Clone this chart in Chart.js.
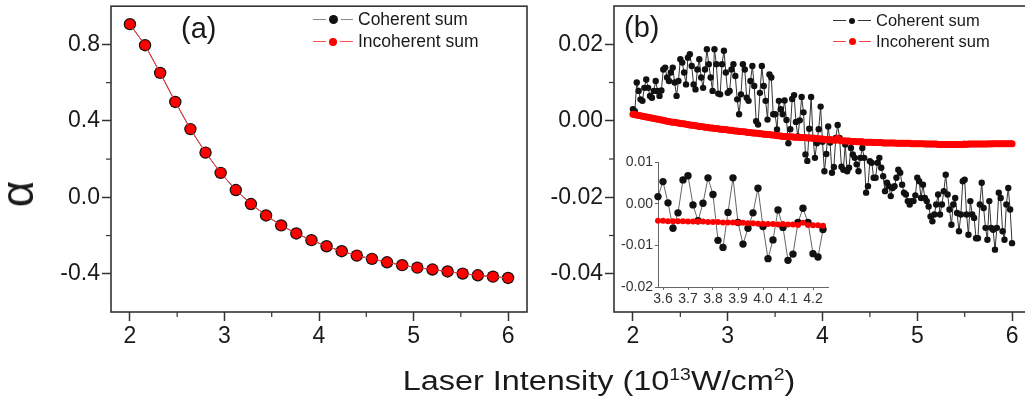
<!DOCTYPE html>
<html><head><meta charset="utf-8">
<script src="https://cdn.jsdelivr.net/npm/chart.js@4/dist/chart.umd.min.js"></script>
<style>
html,body{margin:0;padding:0;background:#fff;overflow:hidden;width:1025px;height:399px;}
#wrap{position:relative;width:1025px;height:399px;overflow:hidden;font-family:"Liberation Sans",Arial,sans-serif;color:#1a1a1a}
canvas{position:absolute}
.lbl{position:absolute;white-space:nowrap;line-height:1}
.legtxt{position:absolute;white-space:nowrap;line-height:1}
.legln{position:absolute;height:1px}
.legdot{position:absolute;border-radius:50%}
sup{font-size:60%;vertical-align:0;position:relative;top:-0.6em}
</style></head><body>
<div id="wrap">
<canvas id="ca" width="545" height="399" style="left:0;top:0"></canvas>
<canvas id="cb" width="545" height="399" style="left:500px;top:0"></canvas>
<canvas id="ci" width="240" height="160" style="left:600px;top:150px"></canvas>
<div class="lbl" style="left:181px;top:14px;font-size:29px">(a)</div>
<div class="lbl" style="left:624px;top:13px;font-size:29px">(b)</div>
<div class="lbl" id="yt" style="left:17px;top:194px;font-size:46px;transform:translate(-50%,-50%) rotate(-90deg)">α</div>
<div class="lbl" id="xt" style="left:599px;top:368px;font-size:27px;transform:translateX(-50%) scaleX(1.2)">Laser Intensity (10<sup>13</sup>W/cm<sup>2</sup>)</div>
<div id="legs"></div>
</div>
<script>
// ---------- data ----------
const seriesNames = ['Coherent sum', 'Incoherent sum'];
const panelLabels = ['(a)', '(b)'];

// panel (a)
const xA = [2.00,2.16,2.32,2.48,2.64,2.80,2.96,3.12,3.28,3.44,3.60,3.76,3.92,4.08,4.24,4.40,4.56,4.72,4.88,5.04,5.20,5.36,5.52,5.68,5.84,6.00];
const cohA = [0.906,0.796,0.651,0.499,0.357,0.234,0.128,0.038,-0.035,-0.095,-0.147,-0.189,-0.224,-0.256,-0.282,-0.305,-0.322,-0.340,-0.355,-0.368,-0.378,-0.388,-0.399,-0.408,-0.415,-0.422];
const incA = [0.906,0.796,0.651,0.499,0.357,0.234,0.128,0.038,-0.035,-0.095,-0.147,-0.189,-0.224,-0.256,-0.282,-0.305,-0.322,-0.340,-0.355,-0.368,-0.378,-0.388,-0.399,-0.408,-0.415,-0.422];
const xTicksA = [2,3,4,5,6];
const xMinorA = [2.5,3.5,4.5,5.5];
const yTicksA = [0.8,0.4,0.0,-0.4];
const yLabelsA = ['0.8','0.4','0.0','-0.4'];
const yMinorA = [0.6,0.2,-0.2];

// panel (b)
const xB = [2.00,2.02,2.04,2.06,2.08,2.10,2.12,2.14,2.16,2.18,2.20,2.22,2.24,2.26,2.28,2.30,2.32,2.34,2.36,2.38,2.40,2.42,2.44,2.46,2.48,2.50,2.52,2.54,2.56,2.58,2.60,2.62,2.64,2.66,2.68,2.70,2.72,2.74,2.76,2.78,2.80,2.82,2.84,2.86,2.88,2.90,2.92,2.94,2.96,2.98,
3.00,3.02,3.04,3.06,3.08,3.10,3.12,3.14,3.16,3.18,3.20,3.22,3.24,3.26,3.28,3.30,3.32,3.34,3.36,3.38,3.40,3.42,3.44,3.46,3.48,3.50,3.52,3.54,3.56,3.58,3.60,3.62,3.64,3.66,3.68,3.70,3.72,3.74,3.76,3.78,3.80,3.82,3.84,3.86,3.88,3.90,3.92,3.94,3.96,3.98,
4.00,4.02,4.04,4.06,4.08,4.10,4.12,4.14,4.16,4.18,4.20,4.22,4.24,4.26,4.28,4.30,4.32,4.34,4.36,4.38,4.40,4.42,4.44,4.46,4.48,4.50,4.52,4.54,4.56,4.58,4.60,4.62,4.64,4.66,4.68,4.70,4.72,4.74,4.76,4.78,4.80,4.82,4.84,4.86,4.88,4.90,4.92,4.94,4.96,4.98,
5.00,5.02,5.04,5.06,5.08,5.10,5.12,5.14,5.16,5.18,5.20,5.22,5.24,5.26,5.28,5.30,5.32,5.34,5.36,5.38,5.40,5.42,5.44,5.46,5.48,5.50,5.52,5.54,5.56,5.58,5.60,5.62,5.64,5.66,5.68,5.70,5.72,5.74,5.76,5.78,5.80,5.82,5.84,5.86,5.88,5.90,5.92,5.94,5.96,5.98,6.00];
const cohB = [
0.0030,0.0025,0.0100,0.0078,0.0056,0.0052,0.0086,0.0108,0.0086,0.0065,
0.0060,0.0078,0.0104,0.0078,0.0065,0.0079,0.0134,0.0139,0.0113,0.0104,
0.0126,0.0139,0.0100,0.0065,0.0104,0.0161,0.0152,0.0126,0.0095,0.0165,
0.0174,0.0143,0.0095,0.0082,0.0134,0.0161,0.0113,0.0086,0.0134,0.0187,
0.0148,0.0113,0.0078,0.0187,0.0148,0.0071,0.0069,0.0148,0.0183,0.0126,
0.0073,0.0078,0.0134,0.0148,0.0117,0.0056,0.0017,0.0069,0.0148,0.0134,
0.0060,0.0052,0.0104,0.0143,0.0091,-0.0001,-0.0010,0.0073,0.0143,0.0091,
0.0052,0.0003,0.0121,0.0113,0.0017,0.0017,-0.0023,0.0052,0.0030,
0.0017,0.0053,0.0002,-0.0059,-0.0022,0.0057,0.0067,-0.0003,-0.0041,0.0001,
0.0062,0.0022,-0.0088,-0.0105,-0.0021,0.0062,-0.0045,-0.0097,-0.0059,-0.0022,
0.0037,-0.0055,-0.0132,-0.0087,-0.0015,-0.0057,-0.0136,-0.0121,-0.0045,-0.0011,
-0.0045,-0.0120,-0.0128,-0.0062,
-0.0132,-0.0123,-0.0071,-0.0088,-0.0097,-0.0114,-0.0132,-0.0097,-0.0071,-0.0097,
-0.0188,-0.0171,-0.0106,-0.0110,-0.0149,-0.0149,-0.0110,-0.0097,-0.0123,-0.0145,
-0.0184,-0.0162,-0.0171,-0.0197,-0.0176,-0.0171,-0.0149,-0.0128,-0.0136,-0.0167,
-0.0188,-0.0193,-0.0210,-0.0219,-0.0210,-0.0210,-0.0195,-0.0149,-0.0158,-0.0202,
-0.0167,-0.0202,-0.0210,-0.0224,-0.0250,-0.0263,-0.0245,-0.0219,-0.0193,-0.0245,
-0.0219,-0.0184,-0.0141,-0.0193,-0.0232,-0.0272,-0.0219,-0.0202,-0.0241,-0.0289,
-0.0245,-0.0158,-0.0154,-0.0245,-0.0298,-0.0210,-0.0245,-0.0254,-0.0307,-0.0307,
-0.0219,-0.0162,-0.0228,-0.0280,-0.0311,-0.0210,-0.0280,-0.0285,-0.0337,-0.0280,
-0.0188,-0.0202,-0.0289,-0.0311,-0.0219,-0.0176,-0.0232,-0.0320];
const incB = [
0.0017,0.0016,0.0015,0.0014,0.0013,0.0012,0.0011,0.0010,0.0009,0.0008,
0.0007,0.0006,0.0005,0.0004,0.0003,0.0002,0.0001,0.0000,-0.0001,-0.0002,
-0.0003,-0.0004,-0.0004,-0.0005,-0.0006,-0.0007,-0.0008,-0.0008,-0.0009,-0.0010,
-0.0011,-0.0012,-0.0012,-0.0013,-0.0014,-0.0015,-0.0015,-0.0016,-0.0017,-0.0017,
-0.0018,-0.0019,-0.0019,-0.0020,-0.0020,-0.0021,-0.0022,-0.0022,-0.0023,-0.0023,
-0.0024,
-0.0025,-0.0025,-0.0026,-0.0027,-0.0027,-0.0028,-0.0028,-0.0029,-0.0029,-0.0030,
-0.0031,-0.0031,-0.0032,-0.0032,-0.0033,-0.0033,-0.0034,-0.0034,-0.0035,-0.0035,
-0.0036,-0.0036,-0.0037,-0.0037,-0.0038,-0.0039,-0.0039,-0.0040,
-0.0041,-0.0041,-0.0042,-0.0042,-0.0042,-0.0042,-0.0043,-0.0043,-0.0043,-0.0043,
-0.0044,-0.0044,-0.0044,-0.0045,-0.0045,-0.0045,-0.0046,-0.0046,-0.0047,-0.0047,
-0.0048,-0.0048,-0.0049,-0.0049,-0.0050,-0.0049,-0.0050,-0.0050,-0.0051,-0.0046,
-0.0051,-0.0052,-0.0052,-0.0053,
-0.0053,-0.0053,-0.0054,-0.0054,-0.0054,-0.0055,-0.0055,-0.0055,-0.0055,-0.0056,-0.0056,-0.0056,-0.0056,
-0.0056,-0.0057,-0.0057,-0.0057,-0.0057,-0.0057,-0.0058,-0.0058,-0.0058,-0.0058,-0.0058,-0.0058,-0.0058,
-0.0059,-0.0059,-0.0059,-0.0059,-0.0059,-0.0059,-0.0059,-0.0059,-0.0060,-0.0060,-0.0060,-0.0060,
-0.0060,-0.0060,-0.0060,-0.0061,-0.0061,-0.0061,-0.0061,-0.0061,-0.0061,-0.0061,-0.0062,-0.0062,-0.0062,
-0.0062,-0.0062,-0.0062,-0.0062,-0.0062,-0.0062,-0.0062,
-0.0062,-0.0062,-0.0062,-0.0062,-0.0061,-0.0062,-0.0061,-0.0061,-0.0061,-0.0061,-0.0061,-0.0061,-0.0061,
-0.0061,-0.0061,-0.0061,-0.0061,-0.0060,-0.0061,-0.0060,-0.0060,-0.0060,-0.0060,-0.0060,-0.0060,-0.0060,
-0.0060,-0.0060,-0.0060,-0.0060];
const xTicksB = [2,3,4,5,6];
const xMinorB = [2.5,3.5,4.5,5.5];
const yTicksB = [0.02,0.00,-0.02,-0.04];
const yLabelsB = ['0.02','0.00','-0.02','-0.04'];
const yMinorB = [0.01,-0.01,-0.03];

// inset
const insetRange = [3.58, 4.24];
const xTicksI = [3.6,3.7,3.8,3.9,4.0,4.1,4.2];
const xLabelsI = ['3.6','3.7','3.8','3.9','4.0','4.1','4.2'];
const yTicksI = [0.01,0.00,-0.01,-0.02];
const yLabelsI = ['0.01','0.00','-0.01','-0.02'];

// ---------- helpers ----------
const FONT = '"Liberation Sans", Arial, sans-serif';
const pts = (xs, ys) => xs.map((x, i) => ({x, y: ys[i]}));
const noPad = s => { s.paddingTop = 0; s.paddingBottom = 0; s.paddingLeft = 0; s.paddingRight = 0; };

const framePlugin = {
  id: 'frame',
  afterDraw(chart, args, o) {
    if (!o || !o.on) return;
    const {ctx, chartArea: a} = chart;
    ctx.save();
    ctx.strokeStyle = o.color; ctx.lineWidth = o.width;
    ctx.strokeRect(a.left, a.top, a.right - a.left, a.bottom - a.top);
    ctx.restore();
  }
};
const minorPlugin = {
  id: 'minor',
  afterDraw(chart, args, o) {
    if (!o || !o.list) return;
    const ctx = chart.ctx;
    ctx.save(); ctx.strokeStyle = o.color; ctx.lineWidth = o.width;
    o.list.forEach(([id, vals, len]) => {
      const s = chart.scales[id];
      vals.forEach(v => {
        const p = s.getPixelForValue(v);
        ctx.beginPath();
        if (s.isHorizontal()) { ctx.moveTo(p, s.top); ctx.lineTo(p, s.top + len); }
        else { ctx.moveTo(s.right, p); ctx.lineTo(s.right - len, p); }
        ctx.stroke();
      });
    });
    ctx.restore();
  }
};

function mainScales(xmin, xmax, ymin, ymax, xt, yt, yl, yw) {
  return {
    x: {
      type: 'linear', min: xmin, max: xmax,
      afterBuildTicks: s => { s.ticks = xt.map(v => ({value: v})); },
      afterFit: s => { s.height = 87; noPad(s); },
      grid: {display: true, drawOnChartArea: false, tickLength: 9, tickColor: '#333', tickWidth: 1.5},
      border: {display: false},
      ticks: {font: {family: FONT, size: 23}, color: '#1a1a1a', padding: 2, maxRotation: 0,
              callback: (v) => String(v)}
    },
    y: {
      type: 'linear', min: ymin, max: ymax,
      afterBuildTicks: s => { s.ticks = yt.map(v => ({value: v})); },
      afterFit: s => { s.width = yw; noPad(s); },
      grid: {display: true, drawOnChartArea: false, tickLength: 9, tickColor: '#333', tickWidth: 1.5},
      border: {display: false},
      ticks: {font: {family: FONT, size: 23}, color: '#1a1a1a', padding: 2,
              callback: (v, i) => yl[i]}
    }
  };
}

const common = {responsive: false, animation: false, events: [],
  plugins: {legend: {display: false}, tooltip: {enabled: false}}};

// ---------- panel (a) ----------
new Chart(document.getElementById('ca'), {
  type: 'line',
  data: {datasets: [
    {label: seriesNames[1], data: pts(xA, incA), order: 0, borderColor: '#ff4040', borderWidth: 1,
     pointRadius: 5, pointBackgroundColor: '#ff0000', pointBorderWidth: 0, tension: 0},
    {label: seriesNames[0], data: pts(xA, cohA), order: 1, borderColor: '#222', borderWidth: 1,
     pointRadius: 6.2, pointBackgroundColor: '#111', pointBorderWidth: 0, tension: 0}
  ]},
  options: Object.assign({}, common, {
    layout: {padding: {left: 0, top: 6, right: 18, bottom: 0}},
    scales: mainScales(1.8, 6.2, -0.6, 1.0, xTicksA, yTicksA, yLabelsA, 111),
    plugins: Object.assign({}, common.plugins, {
      frame: {on: true, color: '#333', width: 1.6},
      minor: {color: '#333', width: 1.2, list: [['x', xMinorA, 5], ['y', yMinorA, 5]]}
    })
  }),
  plugins: [framePlugin, minorPlugin]
});

// ---------- panel (b) ----------
new Chart(document.getElementById('cb'), {
  type: 'line',
  data: {datasets: [
    {label: seriesNames[1], data: pts(xB, incB), order: 0, borderColor: '#ff0000', borderWidth: 1,
     pointRadius: 3.5, pointBackgroundColor: '#ff0000', pointBorderWidth: 0, tension: 0},
    {label: seriesNames[0], data: pts(xB, cohB), order: 1, borderColor: '#333', borderWidth: 1,
     pointRadius: 3.2, pointBackgroundColor: '#111', pointBorderWidth: 0, tension: 0}
  ]},
  options: Object.assign({}, common, {
    layout: {padding: {left: 0, top: 6, right: 14, bottom: 0}},
    scales: mainScales(1.8, 6.2, -0.05, 0.03, xTicksB, yTicksB, yLabelsB, 114),
    plugins: Object.assign({}, common.plugins, {
      frame: {on: true, color: '#333', width: 1.6},
      minor: {color: '#333', width: 1.2, list: [['x', xMinorB, 5], ['y', yMinorB, 5]]}
    })
  }),
  plugins: [framePlugin, minorPlugin]
});

// ---------- inset ----------
const inI = (x) => x >= insetRange[0] - 1e-9 && x <= insetRange[1] + 1e-9;
const insetPts = (ys) => pts(xB, ys).filter(p => inI(p.x));
new Chart(document.getElementById('ci'), {
  type: 'line',
  data: {datasets: [
    {label: seriesNames[1], data: insetPts(incB), order: 0, borderColor: '#ff0000', borderWidth: 1,
     pointRadius: 3, pointBackgroundColor: '#ff0000', pointBorderWidth: 0, tension: 0, clip: false},
    {label: seriesNames[0], data: insetPts(cohB), order: 1, borderColor: '#666', borderWidth: 1,
     pointRadius: 3.7, pointBackgroundColor: '#111', pointBorderWidth: 0, tension: 0, clip: false}
  ]},
  options: Object.assign({}, common, {
    layout: {padding: {left: 0, top: 12, right: 12, bottom: 0}},
    scales: {
      x: {type: 'linear', min: 3.58, max: 4.26,
        afterBuildTicks: s => { s.ticks = xTicksI.map(v => ({value: v})); },
        afterFit: s => { s.height = 23; noPad(s); },
        grid: {display: true, drawOnChartArea: false, tickLength: 3, tickColor: '#666'},
        border: {display: true, color: '#666', width: 1},
        ticks: {font: {family: FONT, size: 14}, color: '#333', padding: 1, maxRotation: 0,
                callback: (v, i) => xLabelsI[i]}},
      y: {type: 'linear', min: -0.02, max: 0.01,
        afterBuildTicks: s => { s.ticks = yTicksI.map(v => ({value: v})); },
        afterFit: s => { s.width = 58; noPad(s); },
        grid: {display: true, drawOnChartArea: false, tickLength: 3, tickColor: '#666'},
        border: {display: true, color: '#666', width: 1},
        ticks: {font: {family: FONT, size: 14}, color: '#333', padding: 2,
                callback: (v, i) => yLabelsI[i]}}
    }
  })
});

// ---------- legends (HTML) ----------
const legs = [
  {x: 313, y: 19, w: 40, line: '#888', dot: '#111', r: 4.5, name: seriesNames[0], fs: 17.5},
  {x: 313, y: 41, w: 40, line: '#ff5050', dot: '#ff0000', r: 4, name: seriesNames[1], fs: 17.5},
  {x: 833, y: 20, w: 38, line: '#333', dot: '#111', r: 3, name: seriesNames[0], fs: 16.5},
  {x: 833, y: 41, w: 38, line: '#ff4040', dot: '#ff0000', r: 3.5, name: seriesNames[1], fs: 16.5}
];
const host = document.getElementById('legs');
legs.forEach(l => {
  const ln = document.createElement('div');
  ln.className = 'legln';
  ln.style.cssText = `left:${l.x}px;top:${l.y}px;width:${l.w}px;background:${l.line}`;
  host.appendChild(ln);
  const d = document.createElement('div');
  d.className = 'legdot';
  const cx = l.x + l.w / 2;
  d.style.cssText = `left:${cx - l.r}px;top:${l.y + 0.5 - l.r}px;width:${2*l.r}px;height:${2*l.r}px;background:${l.dot};box-shadow:0 0 0 3px #fff`;
  host.appendChild(d);
  const t = document.createElement('div');
  t.className = 'legtxt';
  t.textContent = l.name;
  t.style.cssText = `left:${l.x + l.w + 5}px;top:${l.y - 8}px;font-size:${l.fs}px`;
  host.appendChild(t);
});
</script>
</body></html>
